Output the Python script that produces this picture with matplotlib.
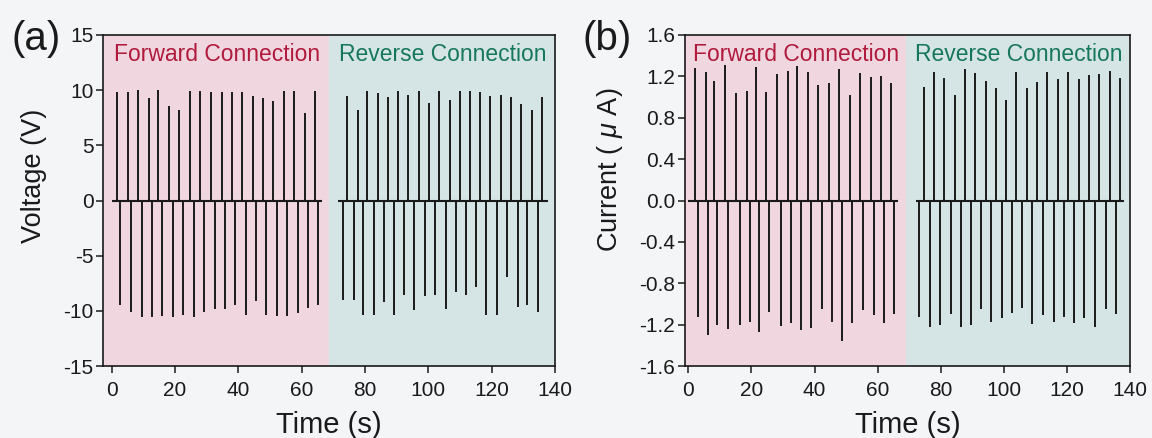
import matplotlib
matplotlib.use("Agg")
import matplotlib.pyplot as plt
import numpy as np

plt.rcParams['font.family'] = ['Liberation Sans', 'DejaVu Sans']
plt.rcParams['axes.unicode_minus'] = False
plt.rcParams['mathtext.fontset'] = 'custom'
plt.rcParams['mathtext.it'] = 'Liberation Sans:italic'
plt.rcParams['mathtext.rm'] = 'Liberation Sans'

# ---------------- (a) voltage ----------------
v_fwd_pos_t = [1.6, 5.1, 8.4, 11.7, 14.7, 18.2, 21.4, 24.7, 27.9, 31.4,
               34.8, 37.9, 41.3, 44.5, 47.9, 50.9, 54.3, 57.7, 61.0, 64.2]
v_fwd_pos = [9.85, 9.8, 10.0, 9.25, 10.0, 8.6, 8.2, 9.9, 9.9, 9.85,
             9.8, 9.85, 9.8, 9.5, 9.25, 9.0, 9.9, 9.9, 7.9, 9.9]
v_fwd_neg_t = [2.6, 6.1, 9.5, 12.6, 16.0, 19.3, 22.6, 25.9, 29.2, 32.6,
               35.8, 38.9, 42.3, 45.6, 48.8, 52.1, 55.4, 58.7, 62.1, 65.3]
v_fwd_neg = [-9.5, -10.1, -10.6, -10.6, -10.5, -10.6, -10.4, -10.6, -10.1, -9.8,
             -9.8, -9.5, -10.4, -9.1, -10.4, -10.5, -10.5, -10.2, -9.7, -9.5]
v_rev_pos_t = [74.4, 77.7, 80.6, 84.0, 87.2, 90.4, 93.7, 97.0, 100.2, 103.4,
               106.8, 110.0, 113.2, 116.3, 119.6, 122.9, 126.1, 129.4, 132.8, 135.9]
v_rev_pos = [9.5, 8.2, 9.9, 9.7, 9.4, 9.9, 9.55, 9.9, 8.8, 9.9,
             9.1, 9.9, 9.9, 9.8, 9.5, 9.6, 9.35, 8.75, 8.2, 9.35]
v_rev_neg_t = [73.2, 76.5, 79.5, 82.8, 86.0, 89.2, 92.4, 95.6, 99.0, 102.1,
               105.5, 108.7, 111.8, 115.1, 118.3, 121.6, 124.9, 128.2, 131.3, 134.7]
v_rev_neg = [-9.0, -9.0, -10.4, -10.4, -9.2, -10.4, -8.55, -9.9, -8.7, -8.55,
             -9.8, -8.25, -8.6, -7.85, -10.4, -10.35, -6.9, -9.65, -9.45, -10.1]
v_baseline = [(0.0, 66.3), (71.5, 137.8)]

# ---------------- (b) current ----------------
i_fwd_pos_t = [2.1, 5.5, 8.2, 11.6, 15.1, 18.5, 21.5, 24.6, 28.1, 31.5,
               34.6, 37.9, 41.2, 44.6, 47.9, 51.1, 54.4, 57.8, 61.1, 64.2]
i_fwd_pos = [1.28, 1.24, 1.16, 1.31, 1.04, 1.06, 1.29, 1.05, 1.22, 1.25,
             1.30, 1.24, 1.12, 1.14, 1.27, 1.02, 1.23, 1.19, 1.20, 1.14]
i_fwd_neg_t = [3.2, 6.3, 9.2, 12.7, 16.4, 19.6, 22.4, 25.7, 29.3, 32.6,
               35.6, 38.9, 42.3, 45.6, 48.8, 52.0, 55.5, 58.9, 62.0, 65.2]
i_fwd_neg = [-1.13, -1.30, -1.20, -1.24, -1.20, -1.17, -1.27, -1.08, -1.21, -1.18,
             -1.25, -1.23, -1.05, -1.17, -1.36, -1.18, -1.06, -1.11, -1.18, -1.10]
i_rev_pos_t = [74.7, 77.9, 81.1, 84.5, 87.7, 91.0, 94.3, 97.4, 100.7, 104.0,
               107.3, 110.5, 113.7, 117.1, 120.4, 123.8, 127.0, 130.3, 133.7, 136.8]
i_rev_pos = [1.10, 1.24, 1.18, 1.02, 1.27, 1.23, 1.16, 1.09, 0.97, 1.24,
             1.09, 1.15, 1.24, 1.17, 1.24, 1.17, 1.21, 1.22, 1.25, 1.18]
i_rev_neg_t = [73.2, 76.6, 79.8, 83.2, 86.4, 89.6, 92.8, 96.0, 99.4, 102.7,
               105.9, 109.0, 112.4, 115.8, 119.1, 122.3, 125.5, 128.9, 132.4, 135.5]
i_rev_neg = [-1.13, -1.22, -1.20, -1.10, -1.22, -1.20, -1.05, -1.17, -1.14, -1.09,
             -1.04, -1.19, -1.11, -1.17, -1.13, -1.18, -1.14, -1.22, -1.05, -1.10]
i_baseline = [(0.0, 66.6), (72.2, 138.0)]

v_ticks = [-15, -10, -5, 0, 5, 10, 15]
i_ticks = [-1.6, -1.2, -0.8, -0.4, 0.0, 0.4, 0.8, 1.2, 1.6]
t_ticks = [0, 20, 40, 60, 80, 100, 120, 140]

FWD_BG = '#efd6df'
REV_BG = '#d5e5e6'
FWD_TXT = '#b01a3c'
REV_TXT = '#17775a'
FIG_BG = '#f4f5f7'
INK = '#1a1a1a'

fig = plt.figure(figsize=(11.52, 4.38), dpi=100, facecolor=FIG_BG)
ax_a = fig.add_axes([103.3 / 1152, 1 - 366 / 438, 451.7 / 1152, 331 / 438])
ax_b = fig.add_axes([685 / 1152, 1 - 366 / 438, 445 / 1152, 331 / 438])


def draw_panel(ax, xlim, split, ylim, yticks, yfmt, series, baselines,
               ylabel, ylabel_xy):
    ax.set_xlim(*xlim)
    ax.set_ylim(*ylim)
    ax.axvspan(xlim[0], split, color=FWD_BG, lw=0, zorder=0)
    ax.axvspan(split, xlim[1], color=REV_BG, lw=0, zorder=0)
    for t0, t1 in baselines:
        ax.hlines(0, t0, t1, color=INK, lw=1.5, zorder=3)
    for ts, vs in series:
        ax.vlines(ts, 0, vs, color=INK, lw=1.4, zorder=3)
    ax.set_xticks(t_ticks)
    ax.set_yticks(yticks)
    ax.set_yticklabels([yfmt(v) for v in yticks])
    ax.tick_params(axis='both', direction='out', length=5, width=1.1,
                   labelsize=15, colors=INK)
    ax.tick_params(axis='x', pad=6)
    ax.tick_params(axis='y', pad=2)
    for s in ax.spines.values():
        s.set_linewidth(1.2)
        s.set_color(INK)
    ax.set_facecolor('none')
    ax.set_xlabel('Time (s)', fontsize=21, color=INK, labelpad=8)
    ax.set_ylabel(ylabel, fontsize=19.5, color=INK)
    ax.yaxis.set_label_coords(*ylabel_xy)
    ytxt = ylim[1] - (ylim[1] - ylim[0]) * 0.058
    ax.text((xlim[0] + split) / 2 + 0.3, ytxt, 'Forward Connection',
            color=FWD_TXT, fontsize=16.5, ha='center', va='center')
    ax.text((split + xlim[1]) / 2 + 0.3, ytxt, 'Reverse Connection',
            color=REV_TXT, fontsize=16.5, ha='center', va='center')


draw_panel(ax_a, (-2.65, 140), 68.7, (-15, 15), v_ticks, lambda v: f'{v:d}',
           [(v_fwd_pos_t, v_fwd_pos), (v_fwd_neg_t, v_fwd_neg),
            (v_rev_pos_t, v_rev_pos), (v_rev_neg_t, v_rev_neg)],
           v_baseline, 'Voltage (V)', (-0.125, (366 - 176) / 331))
draw_panel(ax_b, (-1.05, 140), 69.0, (-1.6, 1.6), i_ticks, lambda v: f'{v:.1f}',
           [(i_fwd_pos_t, i_fwd_pos), (i_fwd_neg_t, i_fwd_neg),
            (i_rev_pos_t, i_rev_pos), (i_rev_neg_t, i_rev_neg)],
           i_baseline, 'Current ( $\\mu$ A)', (-0.135, (366 - 170) / 331))

fig.text(36 / 1152, 1 - 39 / 438, '(a)', fontsize=29, color=INK,
         ha='center', va='center')
fig.text(607 / 1152, 1 - 39 / 438, '(b)', fontsize=29, color=INK,
         ha='center', va='center')

fig.savefig('out.png', dpi=100, facecolor=FIG_BG)
